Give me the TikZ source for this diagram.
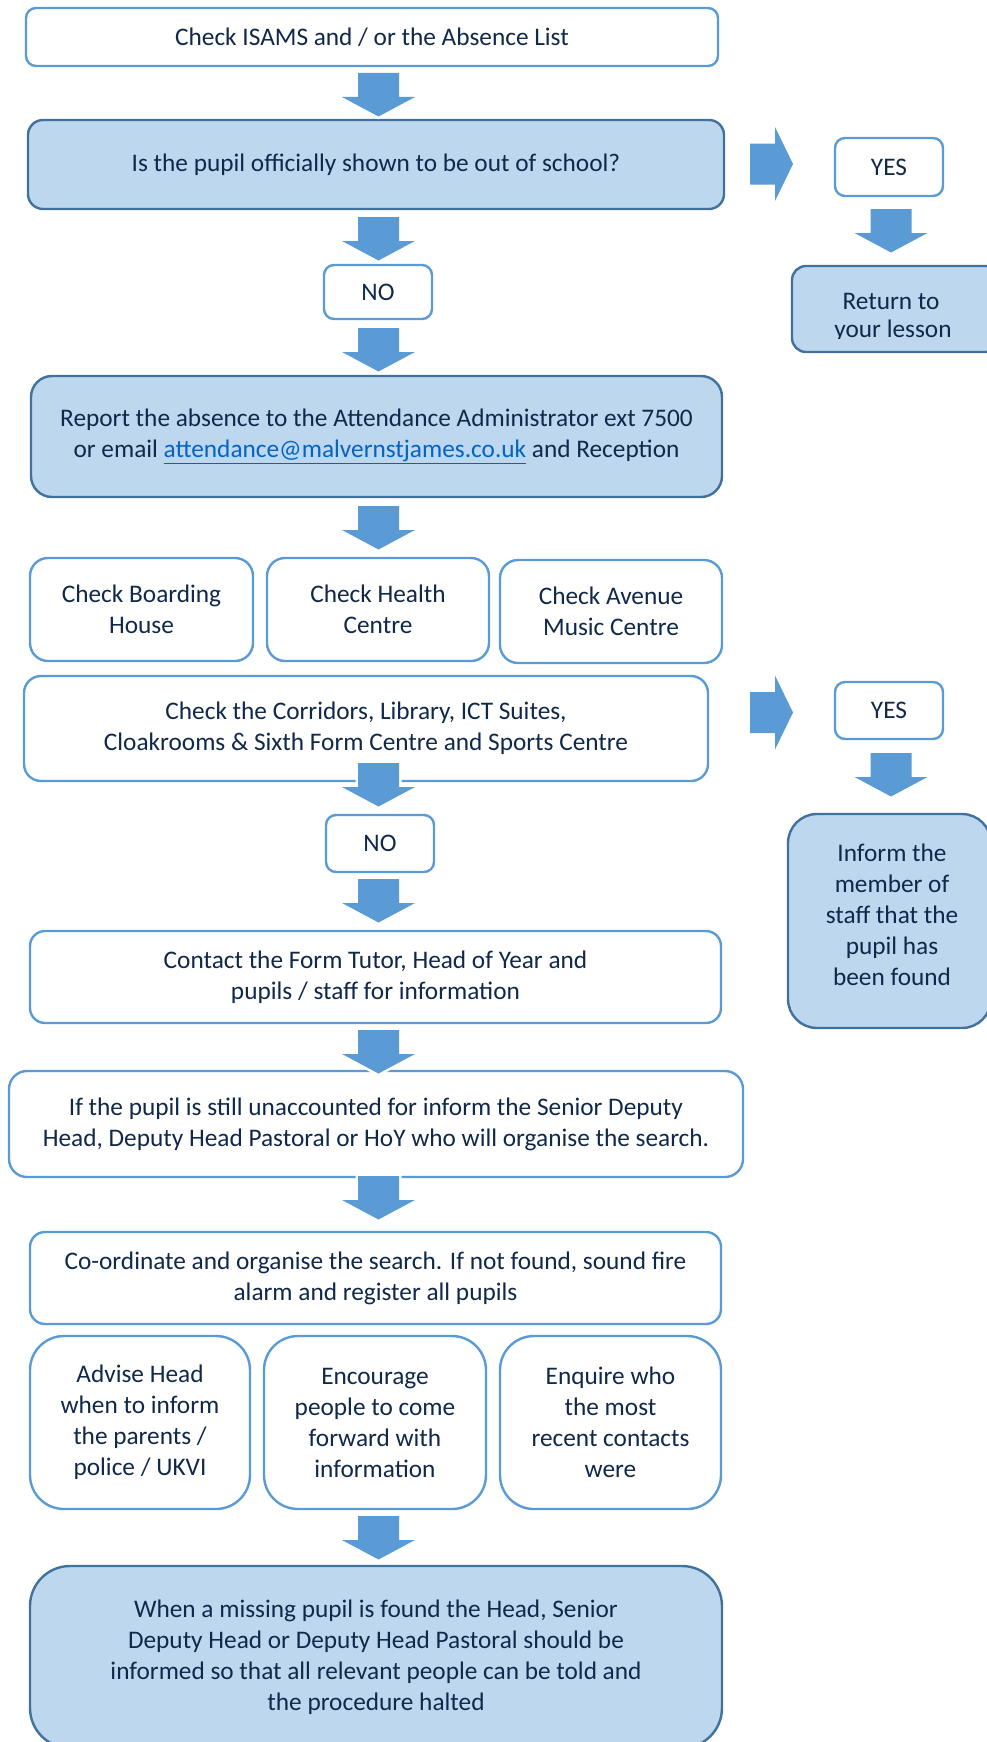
\documentclass[tikz,border=0pt]{standalone}
\usepackage{fontspec}
\setmainfont{Carlito}
\definecolor{lb}{HTML}{5B9BD5}
\definecolor{db}{HTML}{41719C}
\definecolor{lf}{HTML}{BDD7EE}
\definecolor{tx}{HTML}{10284A}
\definecolor{lk}{HTML}{0563C1}
\tikzset{
  boxbase/.style={rectangle, line width=2.4pt, text=tx, align=center, inner sep=0pt,
    font=\fontsize{25.3}{31}\selectfont},
  wbox/.style={boxbase, draw=lb, fill=white, rounded corners=#1},
  bbox/.style={boxbase, draw=db, fill=lf, rounded corners=#1},
  downarr/.pic={
    \path[fill=white, draw=white, line width=5pt]
      (-20.5,0) -- (20.5,0) -- (20.5,24) -- (36.5,24) -- (0,43.5) -- (-36.5,24) -- (-20.5,24) -- cycle;
    \fill[lb] (-20.5,0) -- (20.5,0) -- (20.5,24) -- (36.5,24) -- (0,43.5) -- (-36.5,24) -- (-20.5,24) -- cycle;
  },
  rightarr/.pic={
    \path[fill=white, draw=white, line width=5pt]
      (0,-20.5) -- (25,-20.5) -- (25,-37) -- (43,0) -- (25,37) -- (25,20.5) -- (0,20.5) -- cycle;
    \fill[lb] (0,-20.5) -- (25,-20.5) -- (25,-37) -- (43,0) -- (25,37) -- (25,20.5) -- (0,20.5) -- cycle;
  }
}
\begin{document}
\begin{tikzpicture}[x=1pt,y=-1pt]
\useasboundingbox (0,0) rectangle (987,1742);
\clip (0,0) rectangle (987,1742);

% main column boxes
\node[wbox=10pt, minimum width=692pt, minimum height=58pt] (isams) at (372,37) {Check ISAMS and / or the Absence List};
\node[bbox=15pt, minimum width=696pt, minimum height=89pt] (out) at (376,164.5) {Is the pupil officially shown to be out of school?};
\node[wbox=10pt, minimum width=108pt, minimum height=58pt] (yes1) at (889,167) {YES};
\node[bbox=14pt, minimum width=208pt, minimum height=86pt] (ret) at (896,309) {};
\begin{scope}
  \clip (792,266) rectangle (1000,338.5);
  \node[boxbase, anchor=base] (rettexta) at (891,309) {Return to};
  \node[boxbase, anchor=base] (rettextb) at (893,337.5) {your lesson};
\end{scope}
\node[wbox=10pt, minimum width=108pt, minimum height=54pt] (no1) at (378,292) {NO};
\node[bbox=21pt, minimum width=691pt, minimum height=121pt] (report) at (376.5,436.5)
  {Report the absence to the Attendance Administrator ext 7500\\or email \textcolor{lk}{\underline{attendance@malvernstjames.co.uk}} and Reception};

\node[wbox=18pt, minimum width=223pt, minimum height=103pt] (board) at (141.5,609.5) {Check Boarding\\House};
\node[wbox=18pt, minimum width=222pt, minimum height=103pt] (health) at (378,609.5) {Check Health\\Centre};
\node[wbox=18pt, minimum width=222pt, minimum height=103pt] (avenue) at (611,611.5) {Check Avenue\\Music Centre};

\node[wbox=17pt, minimum width=684pt, minimum height=105pt] (corr) at (366,728.5)
  {Check the Corridors, Library, ICT Suites,\\Cloakrooms \& Sixth Form Centre and Sports Centre};
\node[wbox=10pt, minimum width=108pt, minimum height=57pt] (yes2) at (889,710.5) {YES};
\node[bbox=29pt, minimum width=203pt, minimum height=214pt] (inform) at (889.5,921) {};
\node[boxbase] (informtext) at (892,915)
  {Inform the\\member of\\staff that the\\pupil has\\been found};
\node[wbox=10pt, minimum width=108pt, minimum height=57pt] (no2) at (380,843.5) {NO};

\node[wbox=15pt, minimum width=691pt, minimum height=92pt] (contact) at (375.5,977)
  {Contact the Form Tutor, Head of Year and\\pupils / staff for information};
\node[wbox=18pt, minimum width=734pt, minimum height=106pt] (still) at (376,1124)
  {If the pupil is still unaccounted for inform the Senior Deputy\\Head, Deputy Head Pastoral or HoY who will organise the search.};
\node[wbox=15pt, minimum width=691pt, minimum height=92pt] (coord) at (375.5,1278)
  {Co-ordinate and organise the search. If not found, sound fire\\alarm and register all pupils};

\node[wbox=34pt, minimum width=220pt, minimum height=173pt] (advise) at (140,1422.5)
  {Advise Head\\when to inform\\the parents /\\police / UKVI};
\node[wbox=34pt, minimum width=222pt, minimum height=173pt] (encourage) at (375,1422.5)
  {Encourage\\people to come\\forward with\\information};
\node[wbox=34pt, minimum width=221pt, minimum height=173pt] (enquire) at (610.5,1422.5)
  {Enquire who\\the most\\recent contacts\\were};

\node[bbox=40pt, minimum width=692pt, minimum height=182pt] (final) at (376,1657)
  {When a missing pupil is found the Head, Senior\\Deputy Head or Deputy Head Pastoral should be\\informed so that all relevant people can be told and\\the procedure halted};

% block arrows
\pic at (378.5,73) {downarr};
\pic at (378.5,217) {downarr};
\pic at (378.5,328) {downarr};
\pic at (378.5,506) {downarr};
\pic at (378.5,763) {downarr};
\pic at (378.5,879) {downarr};
\pic at (378.5,1030) {downarr};
\pic at (378.5,1176) {downarr};
\pic at (378.5,1516) {downarr};
\pic at (891,209) {downarr};
\pic at (891,753) {downarr};
\pic at (750,164) {rightarr};
\pic at (750,712.5) {rightarr};
\end{tikzpicture}
\end{document}
